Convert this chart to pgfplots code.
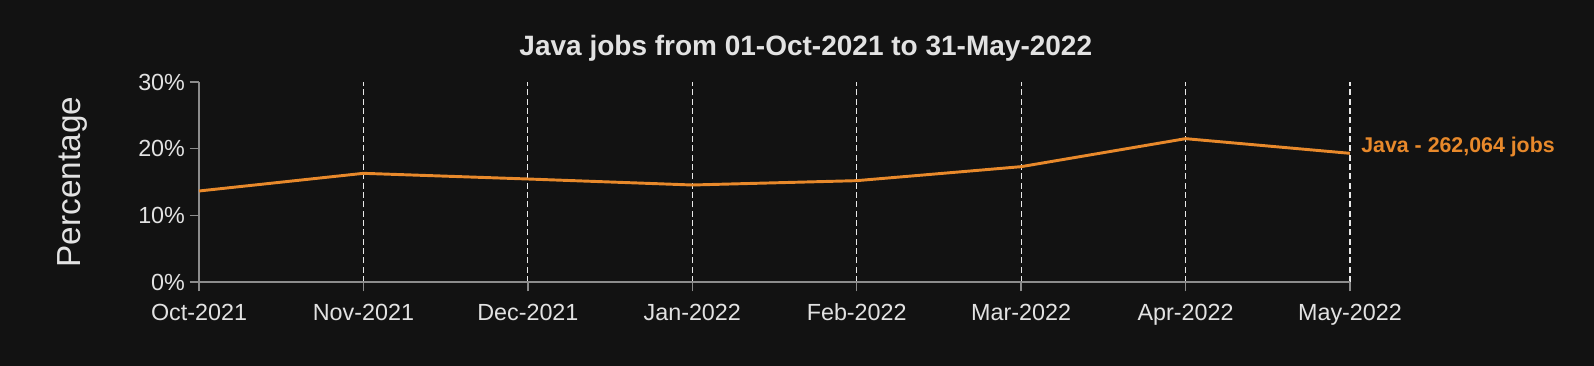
\documentclass[border=0pt]{standalone}
\usepackage{pgfplots}
\pgfplotsset{compat=1.18}
\usepackage{fontspec}
\setmainfont{Liberation Sans}
\definecolor{bg}{HTML}{121212}
\definecolor{fg}{HTML}{E2E2E2}
\definecolor{axc}{HTML}{8C8C8C}
\definecolor{java}{HTML}{E8892B}
\begin{document}
\begin{tikzpicture}
\fill[bg] (-149.25pt,-63pt) rectangle (1046.25pt,211.5pt);
\useasboundingbox (-149.25pt,-63pt) rectangle (1046.25pt,211.5pt);
\begin{axis}[
  at={(0,0)}, anchor=south west,
  scale only axis, width=863.25pt, height=150pt,
  xmin=0, xmax=7, ymin=0, ymax=30,
  axis x line*=bottom, axis y line*=left,
  axis line style={axc, line width=1.3pt, -},
  xtick={0,...,7},
  xticklabels={Oct-2021,Nov-2021,Dec-2021,Jan-2022,Feb-2022,Mar-2022,Apr-2022,May-2022},
  ytick={0,10,20,30},
  yticklabels={0\%,10\%,20\%,30\%},
  tick align=outside, major tick length=7pt,
  tick style={axc, line width=1.1pt},
  ticklabel style={text=fg, font=\fontsize{17.5}{17.5}\selectfont},
  xticklabel style={text height=13pt, text depth=2pt, yshift=-5pt},
  /pgf/number format/assume math mode=true,
  xmajorgrids, grid style={fg!80, line width=0.9pt, dash pattern=on 4.5pt off 2.5pt},
  clip=false,
]
\addplot[java, line width=2.2pt] coordinates {
(0,13.65) (1,16.3) (2,15.45) (3,14.55) (4,15.2) (5,17.3) (6,21.5) (7,19.3)};
\node[anchor=west, text=java, font=\bfseries\fontsize{16}{16}\selectfont] at (axis cs:7,19.3) [xshift=5pt, yshift=5pt] {Java - 262,064 jobs};
\node[text=fg, font=\bfseries\fontsize{21}{21}\selectfont, xshift=23.5pt, yshift=25.5pt] at (rel axis cs:0.5,1) {Java jobs from 01-Oct-2021 to 31-May-2022};
\node[text=fg, font=\fontsize{25}{25}\selectfont, xshift=-95pt, rotate=90] at (rel axis cs:0,0.5) {Percentage};
\end{axis}
\end{tikzpicture}
\end{document}
